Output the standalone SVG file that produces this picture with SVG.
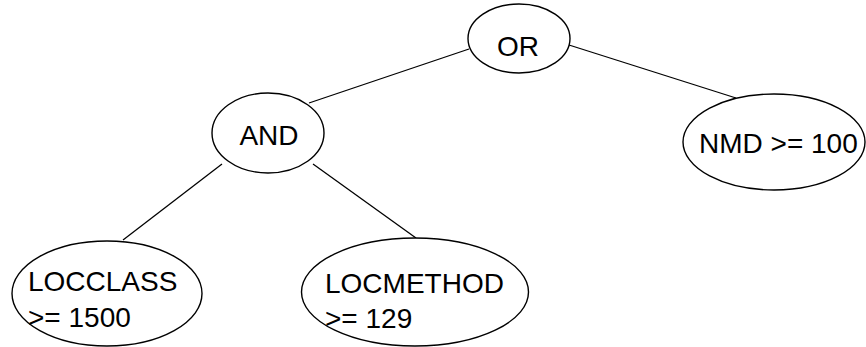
<svg xmlns="http://www.w3.org/2000/svg" width="866" height="347" viewBox="0 0 866 347">
<style>
.n{fill:#fff;stroke:#000;stroke-width:1.4}
.e{stroke:#000;stroke-width:1.3;fill:none}
text{font-family:"Liberation Sans",Arial,sans-serif;font-size:28px;fill:#000}
</style>
<rect width="866" height="347" fill="#fff"/>
<g id="connectors">
<line class="e" x1="469" y1="49" x2="309" y2="103"/>
<line class="e" x1="569" y1="45" x2="736" y2="98"/>
<line class="e" x1="222" y1="164" x2="123" y2="240"/>
<line class="e" x1="313" y1="164" x2="416" y2="238"/>
</g>
<g id="or">
<ellipse class="n" cx="519" cy="38.5" rx="51" ry="34.5"/>
<text x="518" y="56" text-anchor="middle">OR</text>
</g>
<g id="and">
<ellipse class="n" cx="268" cy="133" rx="56" ry="40"/>
<text x="269" y="145" text-anchor="middle">AND</text>
</g>
<g id="nmd">
<ellipse class="n" cx="774" cy="142" rx="91" ry="48"/>
<text x="699" y="153">NMD &gt;= 100</text>
</g>
<g id="locclass">
<ellipse class="n" cx="107" cy="293.5" rx="95" ry="52.5"/>
<text x="28" y="291">LOCCLASS</text>
<text x="28" y="327">&gt;= 1500</text>
</g>
<g id="locmethod">
<ellipse class="n" cx="415" cy="292" rx="113.5" ry="54"/>
<text x="325" y="293">LOCMETHOD</text>
<text x="325" y="328">&gt;= 129</text>
</g>
</svg>
